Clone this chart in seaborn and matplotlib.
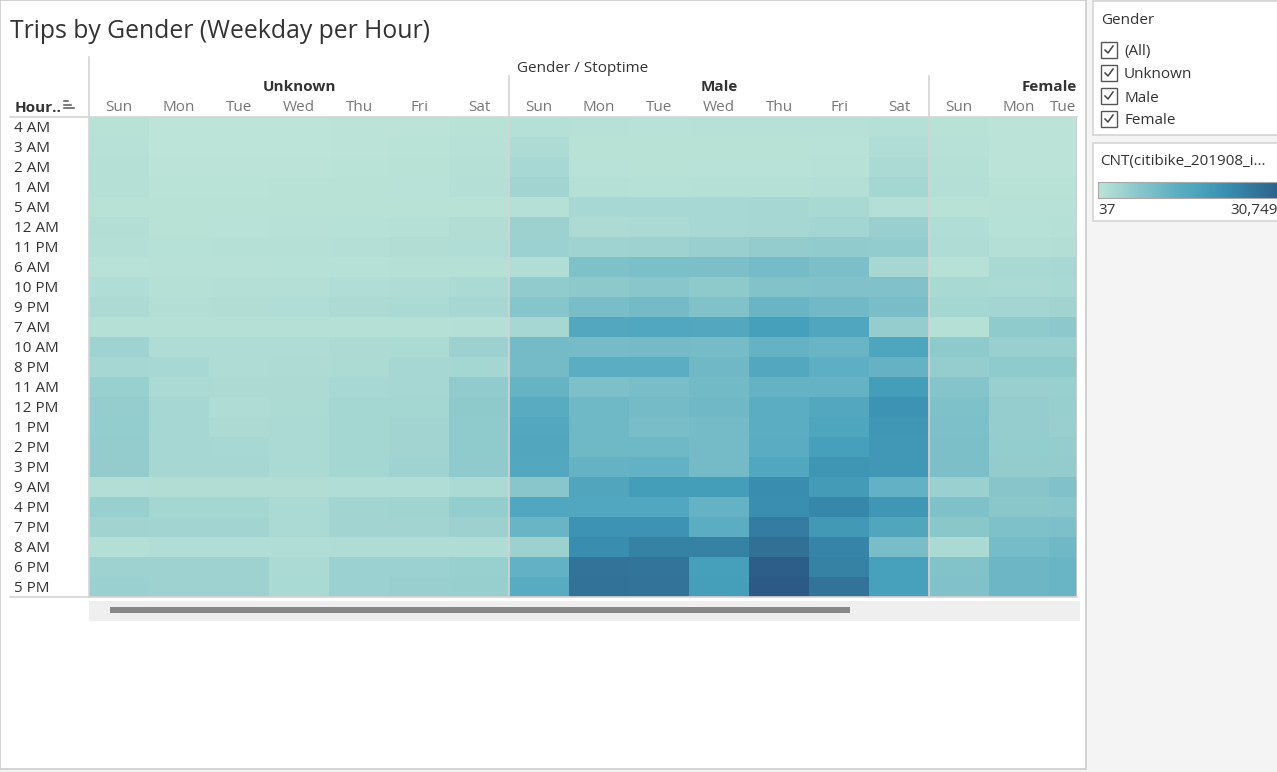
import matplotlib
matplotlib.use("Agg")
import matplotlib.pyplot as plt
import matplotlib.transforms as mtransforms
from matplotlib.colors import LinearSegmentedColormap
from matplotlib.patches import Rectangle
from matplotlib.lines import Line2D
import numpy as np
import pandas as pd
import seaborn as sns

# rows are sorted by total trips, ascending
hours = ["4 AM", "3 AM", "2 AM", "1 AM", "5 AM", "12 AM", "11 PM", "6 AM",
         "10 PM", "9 PM", "7 AM", "10 AM", "8 PM", "11 AM", "12 PM", "1 PM",
         "2 PM", "3 PM", "9 AM", "4 PM", "7 PM", "8 AM", "6 PM", "5 PM"]
days = ["Sun", "Mon", "Tue", "Wed", "Thu", "Fri", "Sat"]
genders = ["Unknown", "Male", "Female"]

# trip counts, one row per hour, columns Sun..Sat
unknown = [
    [500, 150, 150, 150, 200, 250, 500],
    [700, 150, 150, 150, 200, 300, 700],
    [900, 200, 200, 250, 300, 400, 900],
    [1100, 300, 300, 400, 500, 600, 1200],
    [400, 400, 400, 400, 400, 400, 500],
    [1400, 500, 600, 700, 800, 1000, 1500],
    [1300, 800, 900, 1000, 1200, 1500, 1600],
    [600, 700, 700, 800, 800, 900, 900],
    [1600, 1100, 1200, 1300, 1600, 1800, 2200],
    [2000, 1400, 1500, 1600, 2000, 2200, 2800],
    [900, 1000, 1000, 1100, 1100, 1100, 1300],
    [3800, 1800, 1800, 1800, 2000, 2100, 4200],
    [2800, 2700, 1800, 1900, 2100, 2900, 3200],
    [4600, 2200, 2000, 2000, 2600, 2800, 5500],
    [5000, 2800, 1800, 2100, 3000, 3200, 6000],
    [5100, 2800, 2000, 2200, 3000, 3500, 5800],
    [5200, 2900, 2600, 2200, 3100, 3500, 5800],
    [5200, 2900, 2800, 2300, 3200, 3800, 5700],
    [1400, 1500, 1500, 1500, 1600, 1700, 2200],
    [4700, 3000, 3100, 2300, 3400, 3700, 5100],
    [3600, 3500, 3500, 2200, 3500, 3500, 4200],
    [1300, 1700, 1700, 1700, 1800, 1800, 1800],
    [4100, 4000, 4000, 2300, 4300, 4300, 4700],
    [4400, 4100, 4100, 2400, 4300, 4500, 4800],
]
male = [
    [1100, 700, 600, 650, 700, 750, 1000],
    [1900, 500, 400, 450, 450, 550, 1700],
    [2700, 600, 500, 550, 600, 750, 2300],
    [3500, 900, 800, 900, 1000, 1300, 3200],
    [1000, 2700, 2600, 2700, 2800, 2500, 1200],
    [4200, 2000, 2200, 2600, 2900, 3300, 4500],
    [4300, 3800, 4100, 4500, 5200, 5600, 5400],
    [1700, 8000, 8500, 8400, 9200, 8400, 2800],
    [5500, 6200, 6700, 6000, 7500, 7600, 7700],
    [7000, 9000, 9400, 7600, 10800, 9800, 9000],
    [2800, 14500, 14800, 14600, 17000, 15200, 5000],
    [9300, 9200, 9500, 9200, 11500, 11000, 15500],
    [9400, 13000, 13000, 10000, 14500, 12500, 11500],
    [11400, 8200, 8800, 9600, 11500, 11500, 17500],
    [13600, 10200, 9400, 10000, 13000, 14500, 19500],
    [14500, 10200, 9000, 9500, 13000, 15500, 18800],
    [14700, 10200, 10200, 9500, 13200, 17000, 18700],
    [14600, 11600, 11800, 9300, 14800, 19200, 18700],
    [6800, 15000, 17500, 17500, 21000, 18000, 11800],
    [14800, 14800, 14800, 11500, 20500, 22000, 19000],
    [11000, 19500, 19500, 12800, 24000, 18500, 15000],
    [4200, 21000, 23000, 23000, 26000, 22500, 9000],
    [11700, 25500, 25300, 17000, 29600, 23000, 16500],
    [13500, 25800, 25500, 17200, 30749, 25500, 16500],
]
# only Sun, Mon, Tue of the female block are on screen
female = [
    [400, 250, 250], [700, 200, 200], [900, 250, 250], [1300, 400, 400],
    [400, 700, 700], [1700, 800, 900], [1800, 1300, 1400], [700, 2500, 2700],
    [2500, 2300, 2500], [3100, 3300, 3600], [1100, 5800, 6200],
    [6000, 4500, 4500], [5000, 5800, 5800], [7300, 4500, 4600],
    [8000, 5000, 4800], [8300, 5000, 4500], [8400, 5100, 5000],
    [8400, 5300, 5300], [4400, 6900, 7600], [8000, 6600, 6700],
    [6600, 8000, 8100], [2300, 9200, 10000], [7500, 10500, 11000],
    [7800, 10500, 10800],
]
cnt_min, cnt_max = 37, 30749

cols = [("Unknown", d) for d in days] + [("Male", d) for d in days] + \
       [("Female", d) for d in days[:3]]
df = pd.DataFrame(np.hstack([unknown, male, female]), index=hours,
                  columns=pd.MultiIndex.from_tuples(cols))

blue_teal = LinearSegmentedColormap.from_list(
    "blue_teal", [(0.0, "#bce4d8"), (0.2, "#8cc8cc"), (0.4, "#5fafc3"),
                  (0.55, "#46a0bb"), (0.7, "#378aad"), (0.85, "#327096"),
                  (1.0, "#2c5985")])

W, H = 1277, 772
plt.rcParams["font.family"] = ["Open Sans", "DejaVu Sans"]
fig = plt.figure(figsize=(W / 100, H / 100), dpi=100)
fig.patch.set_facecolor("#f4f4f4")
# pixel coords, origin top-left
px = mtransforms.Affine2D().scale(1 / W, -1 / H).translate(0, 1) + fig.transFigure

dark = "#333333"
grey = "#777777"
line = "#d4d4d4"
fs = 11
dy = 2  # Open Sans sits a bit high when centred


def label(x, y, s, **kw):
    kw.setdefault("fontsize", fs)
    kw.setdefault("color", dark)
    kw.setdefault("ha", "left")
    fig.text(x, y + dy, s, transform=px, va="center", **kw)


# main sheet area (behind the axes)
fig.add_artist(Rectangle((0, 0), 1086, 769, transform=px, facecolor="white",
                         edgecolor="#cccccc", lw=1.2, zorder=-10))
# filter and legend cards
fig.add_artist(Rectangle((1093, 1), 190, 134, transform=px, facecolor="white",
                         edgecolor="#d4d4d4", lw=1.2, zorder=-10))
fig.add_artist(Rectangle((1093, 143), 190, 78, transform=px, facecolor="white",
                         edgecolor="#d4d4d4", lw=1.2, zorder=-10))

label(10, 29, "Trips by Gender (Weekday per Hour)", fontsize=17.8)

x0, x1, y0, y1 = 89, 1077, 117, 597
ax = fig.add_axes([x0 / W, 1 - y1 / H, (x1 - x0) / W, (y1 - y0) / H])
sns.heatmap(df, ax=ax, cmap=blue_teal, vmin=cnt_min, vmax=cnt_max, cbar=False,
            linewidths=0, xticklabels=False, yticklabels=hours)
ncol_vis = (x1 - x0) / 60.0
ax.set_xlim(0, ncol_vis)
ax.set_xlabel("")
ax.set_ylabel("")
for s in ax.spines.values():
    s.set_visible(False)

ax.tick_params(axis="y", length=0, pad=54, labelsize=fs, labelcolor=dark)
shift = mtransforms.ScaledTranslation(0, -1.5 / 100, fig.dpi_scale_trans)
for t in ax.get_yticklabels():
    t.set_ha("left")
    t.set_rotation(0)
    t.set_transform(t.get_transform() + shift)

ax.xaxis.tick_top()
centers = [i + 0.5 for i in range(len(cols))]
centers[-1] = (len(cols) - 1 + ncol_vis) / 2
ax.set_xticks(centers)
ax.set_xticklabels([c[1] for c in cols])
ax.tick_params(axis="x", length=0, pad=1.5, labelsize=fs, labelcolor=grey)

# gender group headers
hy = 1 + 30 / 480
ax.text(3.5, hy, "Unknown", transform=ax.get_xaxis_transform(),
        ha="center", va="center", fontsize=fs, fontweight="bold", color=dark)
ax.text(10.5, hy, "Male", transform=ax.get_xaxis_transform(),
        ha="center", va="center", fontsize=fs, fontweight="bold", color=dark)
ax.text(ncol_vis, hy, "Female", transform=ax.get_xaxis_transform(),
        ha="right", va="center", fontsize=fs, fontweight="bold", color=dark)
label((x0 + x1) / 2, 66, "Gender / Stoptime", ha="center")

# separators
for xv, ytop in [(0, 57), (7, 76), (14, 76)]:
    ax.axvline(xv + 0.005, ymin=0, ymax=1 + (y0 - ytop) / 480, color=line,
               lw=1.2, clip_on=False)
ax.axvline(ncol_vis - 0.005, color="#cccccc", lw=1.2)
for yv in (116.5, 597):
    fig.add_artist(Line2D([10, x1], [yv, yv], transform=px, color=line, lw=1.2))

label(15, 106, "Hour..", fontweight="bold")
# sort icon
for yy, xe in [(101, 68), (104.5, 71), (108, 74)]:
    fig.add_artist(Line2D([64, xe], [yy, yy], transform=px, color="#555555",
                          lw=1.1))

# horizontal scrollbar
fig.add_artist(Rectangle((89, 601), 991, 20, transform=px,
                         facecolor="#efefef", edgecolor="none"))
fig.add_artist(Rectangle((110, 607), 740, 6, transform=px,
                         facecolor="#888888", edgecolor="none"))

# gender filter
label(1101, 18, "Gender")
for i, lab in enumerate(["(All)", "Unknown", "Male", "Female"]):
    yc = 50 + i * 23
    fig.add_artist(Rectangle((1101, yc - 8), 16, 16, transform=px,
                             facecolor="white", edgecolor="#555555", lw=1))
    fig.add_artist(Line2D([1105, 1108, 1113], [yc, yc + 3, yc - 4],
                          transform=px, color="#444444", lw=1.1))
    label(1124, yc, lab)

# colour legend
label(1100, 160, "CNT(citibike_201908_i...")
cax = fig.add_axes([1098 / W, 1 - 198 / H, (1290 - 1098) / W, 16 / H])
cax.imshow(np.linspace(0, 1, 256)[None, :], aspect="auto", cmap=blue_teal)
cax.set_xticks([])
cax.set_yticks([])
for s in cax.spines.values():
    s.set_color("#aaaaaa")
label(1098, 209, f"{cnt_min:,}")
label(1230, 209, f"{cnt_max:,}")

fig.savefig("out.png", dpi=100, facecolor=fig.get_facecolor())
